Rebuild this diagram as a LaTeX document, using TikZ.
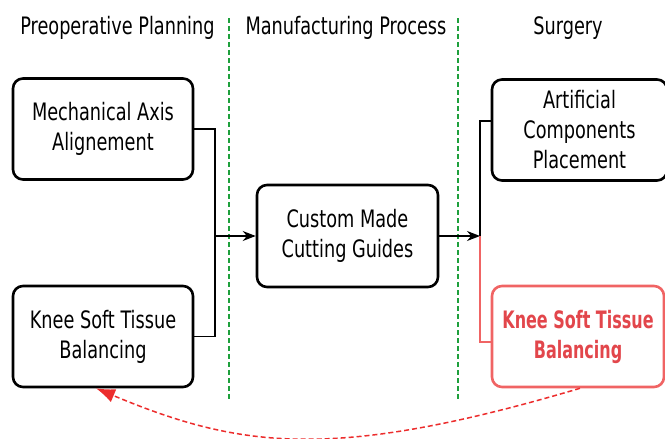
\documentclass[tikz,border=0pt]{standalone}
\usepackage{fontspec}
\setmainfont{DejaVu Sans Condensed}[FakeStretch=0.82,BoldFont={DejaVu Sans Condensed Bold},BoldFeatures={FakeStretch=0.74}]
\usetikzlibrary{arrows.meta}
\definecolor{guidegreen}{RGB}{30,160,60}
\definecolor{boxred}{RGB}{240,100,100}
\definecolor{textred}{RGB}{226,70,75}
\definecolor{curvered}{RGB}{236,45,45}
\tikzset{
  stagebox/.style={draw, line width=2.6pt, rounded corners=10pt, align=center,
    minimum width=180pt, minimum height=101pt, inner sep=0pt,
    font=\fontsize{24}{30}\selectfont},
  redbox/.style={stagebox, draw=boxred, text=textred, minimum width=172pt,
    font=\fontsize{24}{30}\selectfont\bfseries},
  header/.style={font=\fontsize{24}{28}\selectfont, inner sep=0pt},
  divider/.style={guidegreen, line width=1.6pt, dash pattern=on 5pt off 3pt},
  link/.style={line width=1.2pt},
  flow/.style={link, -{Stealth[length=13pt,width=10pt]}},
}
\begin{document}
\begin{tikzpicture}[x=1pt,y=-1pt]
\useasboundingbox (0,0) rectangle (665,439);

% column headers and dividers
\node[header] (h1) at (117.5,28) {Preoperative Planning};
\node[header] (h2) at (346,28) {Manufacturing Process};
\node[header] (h3) at (568,28) {Surgery};
\draw[divider] (229,18) -- (229,400);
\draw[divider] (458,18) -- (458,400);

% stages
\node[stagebox] (mech) at (103,129) {Mechanical Axis\\Alignement};
\node[stagebox] (kneeL) at (103,336.5) {Knee Soft Tissue\\Balancing};
\node[stagebox, minimum width=181pt, minimum height=102pt] (guides) at (347.5,236) {Custom Made\\Cutting Guides};
\node[stagebox, minimum width=175pt] (comp) at (579.5,130) {Artificial\\Components\\Placement};
\node[redbox] (kneeR) at (578,336.5) {Knee Soft Tissue\\Balancing};

% planning inputs merge into the guides
\coordinate (jL) at (215,236);
\draw[link] (mech.east) -| (jL);
\draw[link] (kneeL.east) -| (jL);
\draw[flow] (jL) -- (guides.west);

% guides feed the surgery branch
\coordinate (jR) at (480,236);
\draw[flow] (guides.east) -- (jR);
\draw[link] (jR) |- ([yshift=9pt]comp.west);
\draw[link, boxred] (jR) |- ([yshift=-5.5pt]kneeR.west);

% feedback from surgery to planning
\draw[curvered, line width=1.5pt, dash pattern=on 5pt off 3pt,
  -{Latex[length=19pt,width=14pt]}]
  ([xshift=2pt]kneeR.south) .. controls (334,461) and (241,449) .. ([xshift=-7pt]kneeL.south);
\end{tikzpicture}
\end{document}
